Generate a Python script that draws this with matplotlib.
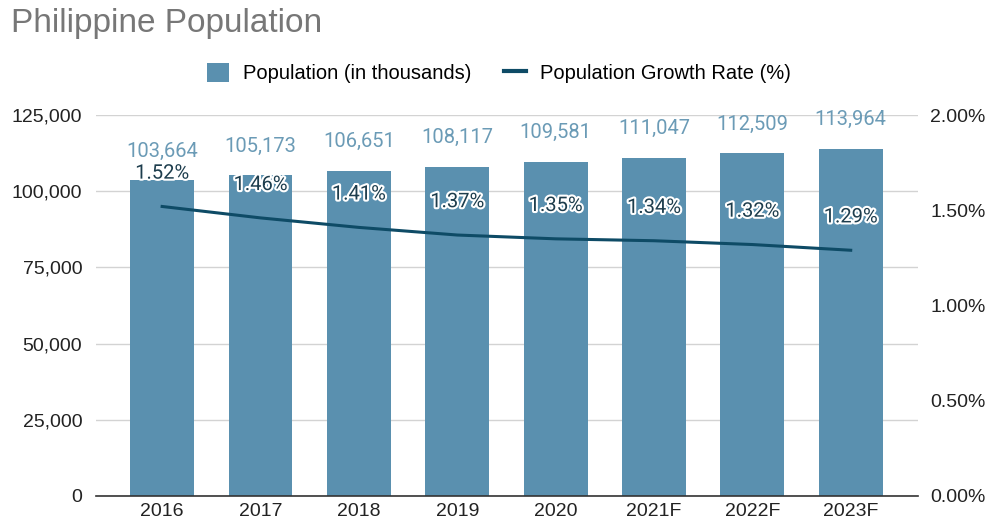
import matplotlib.pyplot as plt
import matplotlib.patheffects as pe
from matplotlib.lines import Line2D
from matplotlib.patches import Patch
from matplotlib.ticker import FuncFormatter

years = ['2016', '2017', '2018', '2019', '2020', '2021F', '2022F', '2023F']
population = [103664, 105173, 106651, 108117, 109581, 111047, 112509, 113964]
growth = [1.52, 1.46, 1.41, 1.37, 1.35, 1.34, 1.32, 1.29]

bar_color = '#5a90af'
line_color = '#0e4b66'

plt.rcParams['font.family'] = ['Liberation Sans', 'DejaVu Sans']

fig = plt.figure(figsize=(9.92, 5.28), dpi=100)
ax = fig.add_axes([0.097, 0.061, 0.828, 0.721])
x = range(len(years))

ax.bar(x, population, width=0.65, color=bar_color, zorder=2)
ax.set_ylim(0, 125000)
ax.set_xlim(-0.67, 7.68)
ax.set_yticks(range(0, 125001, 25000))
ax.yaxis.set_major_formatter(FuncFormatter(lambda v, p: f'{int(v):,}'))
ax.set_xticks(list(x))
ax.set_xticklabels(years)
ax.grid(axis='y', color='#d3d3d3', linewidth=1, zorder=0)
for s in ['top', 'right', 'left']:
    ax.spines[s].set_visible(False)
ax.spines['bottom'].set_color('#333333')
ax.spines['bottom'].set_linewidth(1.2)
ax.spines['bottom'].set_zorder(3)
ax.tick_params(length=0, labelsize=14, colors='#222222')
ax.tick_params(axis='x', pad=5)
ax.tick_params(axis='y', pad=10)

# population values above the bars
for i, v in enumerate(population):
    ax.annotate(f'{v:,}', (i, v), xytext=(0, 21), textcoords='offset points',
                ha='center', va='center', fontsize=14.5, color='#6b9bb6',
                family=['Roboto', 'DejaVu Sans'])

ax2 = ax.twinx()
ax2.set_ylim(0, 2.0)
ax2.set_yticks([0, 0.5, 1.0, 1.5, 2.0])
ax2.yaxis.set_major_formatter(FuncFormatter(lambda v, p: f'{v:.2f}%'))
for s in ax2.spines.values():
    s.set_visible(False)
ax2.tick_params(length=0, labelsize=14, colors='#222222', pad=9)
ax2.plot(list(x), growth, color=line_color, linewidth=2.2, zorder=4)

# growth rate labels with a white halo
for i, g in enumerate(growth):
    ax2.annotate(f'{g:.2f}%', (i, g), xytext=(0, 24), textcoords='offset points',
                 ha='center', va='center', fontsize=14.5, color='#1d3d4d',
                 family=['Roboto', 'DejaVu Sans'],
                 path_effects=[pe.withStroke(linewidth=3, foreground='white')])

handles = [Patch(facecolor=bar_color, edgecolor='none'),
           Line2D([0], [0], color=line_color, linewidth=3)]
fig.legend(handles, ['Population (in thousands)', 'Population Growth Rate (%)'],
           loc='center', bbox_to_anchor=(0.503, 0.862), ncol=2, frameon=False,
           fontsize=14.5, handlelength=1.1, handleheight=1.1, columnspacing=1.6,
           handletextpad=0.7)

fig.text(0.011, 0.955, 'Philippine Population', fontsize=24, color='#777777',
         ha='left', va='center')

fig.savefig('out.png', dpi=100)
